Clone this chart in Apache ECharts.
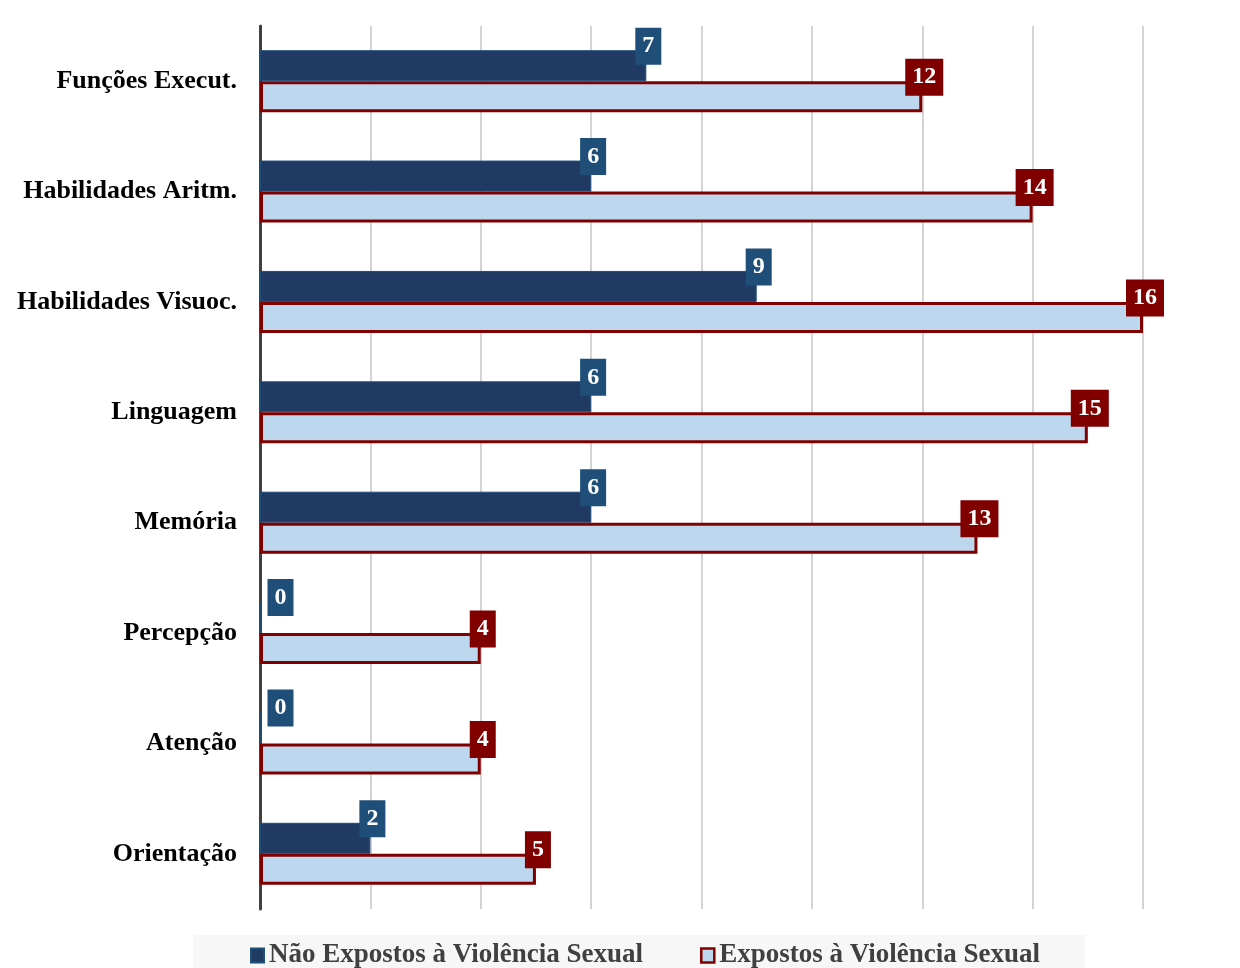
<!DOCTYPE html>
<html>
<head>
<meta charset="utf-8">
<script src="https://cdn.jsdelivr.net/npm/echarts@6/dist/echarts.min.js"></script>
<style>
  html, body { margin: 0; padding: 0; background: #fff; }
  #chart { width: 1240px; height: 968px; }
</style>
</head>
<body>
<div id="chart"></div>
<script>
// Cognitive domains, listed top to bottom
const categories = [
  'Funções Execut.',
  'Habilidades Aritm.',
  'Habilidades Visuoc.',
  'Linguagem',
  'Memória',
  'Percepção',
  'Atenção',
  'Orientação'
];
const seriesNames = ['Não Expostos à Violência Sexual', 'Expostos à Violência Sexual'];
const naoExpostos = [7, 6, 9, 6, 6, 0, 0, 2];
const expostos = [12, 14, 16, 15, 13, 4, 4, 5];

const SERIF = '"Liberation Serif", "Times New Roman", serif';

function valueLabel(bg) {
  return {
    show: true,
    position: ['100%', 0],
    align: 'center',
    verticalAlign: 'middle',
    offset: [2, -4],
    backgroundColor: bg,
    color: '#ffffff',
    fontFamily: SERIF,
    fontWeight: 'bold',
    fontSize: 24,
    lineHeight: 24,
    padding: [7, 7, 6, 7]
  };
}

// Zero-length bars get their tag nudged clear of the axis line
function withZeroNudge(values) {
  return values.map(v => v === 0 ? { value: v, label: { offset: [20, -4] } } : v);
}

const chart = echarts.init(document.getElementById('chart'), null, { renderer: 'canvas' });
chart.setOption({
  backgroundColor: '#ffffff',
  animation: false,
  grid: { left: 260, right: 97, top: 26, bottom: 59, containLabel: false },
  legend: {
    left: 193,
    top: 935,
    padding: [7, 45, 10, 57],
    backgroundColor: '#F7F7F7',
    icon: 'rect',
    itemWidth: 13,
    itemHeight: 14,
    itemGap: 57,
    textStyle: { fontFamily: SERIF, fontWeight: 'bold', fontSize: 27, color: '#404040' },
    data: [
      { name: seriesNames[0] },
      { name: seriesNames[1], itemStyle: { borderWidth: 2.5, borderColor: '#800000' } }
    ]
  },
  xAxis: {
    type: 'value',
    min: 0,
    max: 16,
    interval: 2,
    axisLine: { show: false },
    axisTick: { show: false },
    axisLabel: { show: false },
    splitLine: { show: true, lineStyle: { color: '#D4D4D4', width: 2 } }
  },
  yAxis: {
    type: 'category',
    inverse: true,
    data: categories,
    axisLine: { show: true, lineStyle: { color: '#404040', width: 3 } },
    axisTick: { show: false },
    axisLabel: {
      margin: 23,
      fontFamily: SERIF,
      fontWeight: 'bold',
      fontSize: 26,
      color: '#000000'
    }
  },
  series: [
    {
      name: seriesNames[0],
      type: 'bar',
      barWidth: 31,
      barGap: '0%',
      data: withZeroNudge(naoExpostos),
      itemStyle: { color: '#213A64', borderColor: '#1F4E79', borderWidth: 1 },
      label: valueLabel('#1F4E79')
    },
    {
      name: seriesNames[1],
      type: 'bar',
      barWidth: 31,
      barGap: '0%',
      data: withZeroNudge(expostos),
      itemStyle: { color: '#BDD7EE', borderColor: '#800000', borderWidth: 3 },
      label: valueLabel('#800000')
    }
  ]
});
</script>
</body>
</html>
